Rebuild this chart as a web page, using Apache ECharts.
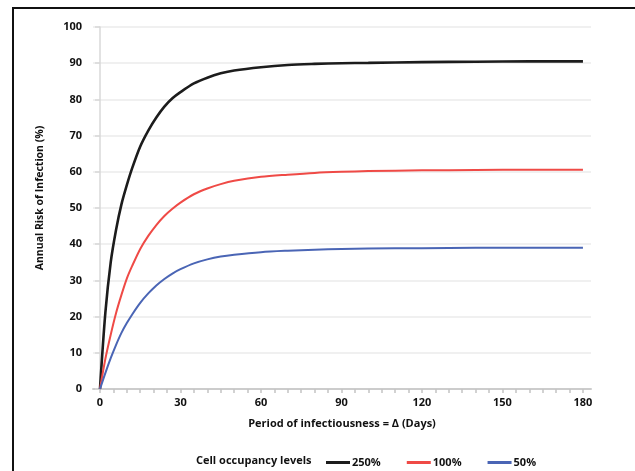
<!DOCTYPE html>
<html>
<head>
<meta charset="utf-8">
<script src="https://cdn.jsdelivr.net/npm/echarts@6/dist/echarts.min.js"></script>
<style>
html,body{margin:0;padding:0;background:#fff;}
#chart{width:635px;height:471px;}
</style>
</head>
<body>
<div id="chart"></div>
<script>
var days = [0, 2, 4, 6, 8, 10, 12, 15, 18, 21, 24, 27, 30, 35, 40, 45, 50, 60, 70, 80, 90, 100, 120, 140, 160, 180];
var occ250 = [0, 21, 35, 44, 51, 56.3, 61, 67, 71.4, 75, 78, 80.3, 82, 84.4, 86, 87.2, 88, 88.9, 89.5, 89.8, 90, 90.1, 90.3, 90.4, 90.5, 90.5];
var occ100 = [0, 8.3, 15, 21, 26, 30.5, 34, 38.7, 42.3, 45.3, 47.8, 49.8, 51.5, 53.8, 55.4, 56.6, 57.5, 58.6, 59.2, 59.7, 60, 60.2, 60.4, 60.5, 60.6, 60.6];
var occ50 = [0, 4.4, 8.5, 12.2, 15.5, 18.2, 20.6, 23.8, 26.4, 28.6, 30.4, 31.9, 33.1, 34.7, 35.8, 36.6, 37.1, 37.8, 38.2, 38.5, 38.7, 38.8, 38.9, 39, 39, 39];
var seriesNames = ['250%', '100%', '50%'];
var xLabelValues = [0, 30, 60, 90, 120, 150, 180];
var xTickValues = [];
for (var t = 0; t <= 180; t += 5) xTickValues.push(t);

function pairs(ys) { return days.map(function (d, i) { return [d, ys[i]]; }); }

var font = '"Open Sans", "DejaVu Sans", sans-serif';
var chart = echarts.init(document.getElementById('chart'));
chart.setOption({
  animation: false,
  backgroundColor: '#fff',
  grid: { left: 93, right: 44, top: 27, bottom: 82, containLabel: false },
  xAxis: {
    type: 'value', min: -2.6, max: 183,
    name: 'Period of infectiousness = \u0394 (Days)',
    nameLocation: 'middle', nameGap: 29,
    nameTextStyle: { fontFamily: font, fontWeight: 'bold', fontSize: 11, color: '#111' },
    axisLine: { lineStyle: { color: '#cccccc', width: 2 } },
    axisTick: { show: true, customValues: xTickValues, length: 4, lineStyle: { color: '#c4c4c4', width: 1.5 } },
    axisLabel: { customValues: xLabelValues, margin: 8, fontFamily: font, fontWeight: 'bold', fontSize: 11, color: '#111' },
    splitLine: { show: false }
  },
  yAxis: {
    type: 'value', min: 0, max: 100, interval: 10,
    axisLine: { show: true, lineStyle: { color: '#d8d8d8', width: 1.5 } },
    axisTick: { show: true, length: 5, lineStyle: { color: '#d8d8d8', width: 1.5 } },
    axisLabel: { margin: 11, fontFamily: font, fontWeight: 'bold', fontSize: 11, color: '#111' },
    splitLine: { show: true, lineStyle: { color: '#ebebeb', width: 1.5 } }
  },
  legend: {
    left: 321, top: 452,
    itemWidth: 24, itemHeight: 3, itemGap: 26,
    icon: 'rect',
    textStyle: { fontFamily: font, fontWeight: 'bold', fontSize: 11, color: '#111', padding: [0, 0, 0, -3] },
    data: seriesNames
  },
  graphic: [
    { type: 'rect', shape: { x: 13, y: 8, width: 640, height: 480 }, style: { fill: 'none', stroke: '#111', lineWidth: 2 }, silent: true },
    { type: 'text', x: 196, y: 461, style: { text: 'Cell occupancy levels', fontFamily: font, fontWeight: 'bold', fontSize: 11, fill: '#111', textVerticalAlign: 'middle' } },
    { type: 'text', x: 40, y: 198, rotation: Math.PI / 2, style: { text: 'Annual Risk of Infection (%)', fontFamily: font, fontWeight: 'bold', fontSize: 10.5, fill: '#111', textAlign: 'center', textVerticalAlign: 'middle' } }
  ],
  series: [
    { name: seriesNames[0], type: 'line', smooth: 0.3, showSymbol: false, data: pairs(occ250), color: '#1c1c1c', lineStyle: { width: 2.6, color: '#1c1c1c' } },
    { name: seriesNames[1], type: 'line', smooth: 0.3, showSymbol: false, data: pairs(occ100), color: '#ef4a46', lineStyle: { width: 2, color: '#ef4a46' } },
    { name: seriesNames[2], type: 'line', smooth: 0.3, showSymbol: false, data: pairs(occ50), color: '#4a65b5', lineStyle: { width: 2, color: '#4a65b5' } }
  ]
});
</script>
</body>
</html>
